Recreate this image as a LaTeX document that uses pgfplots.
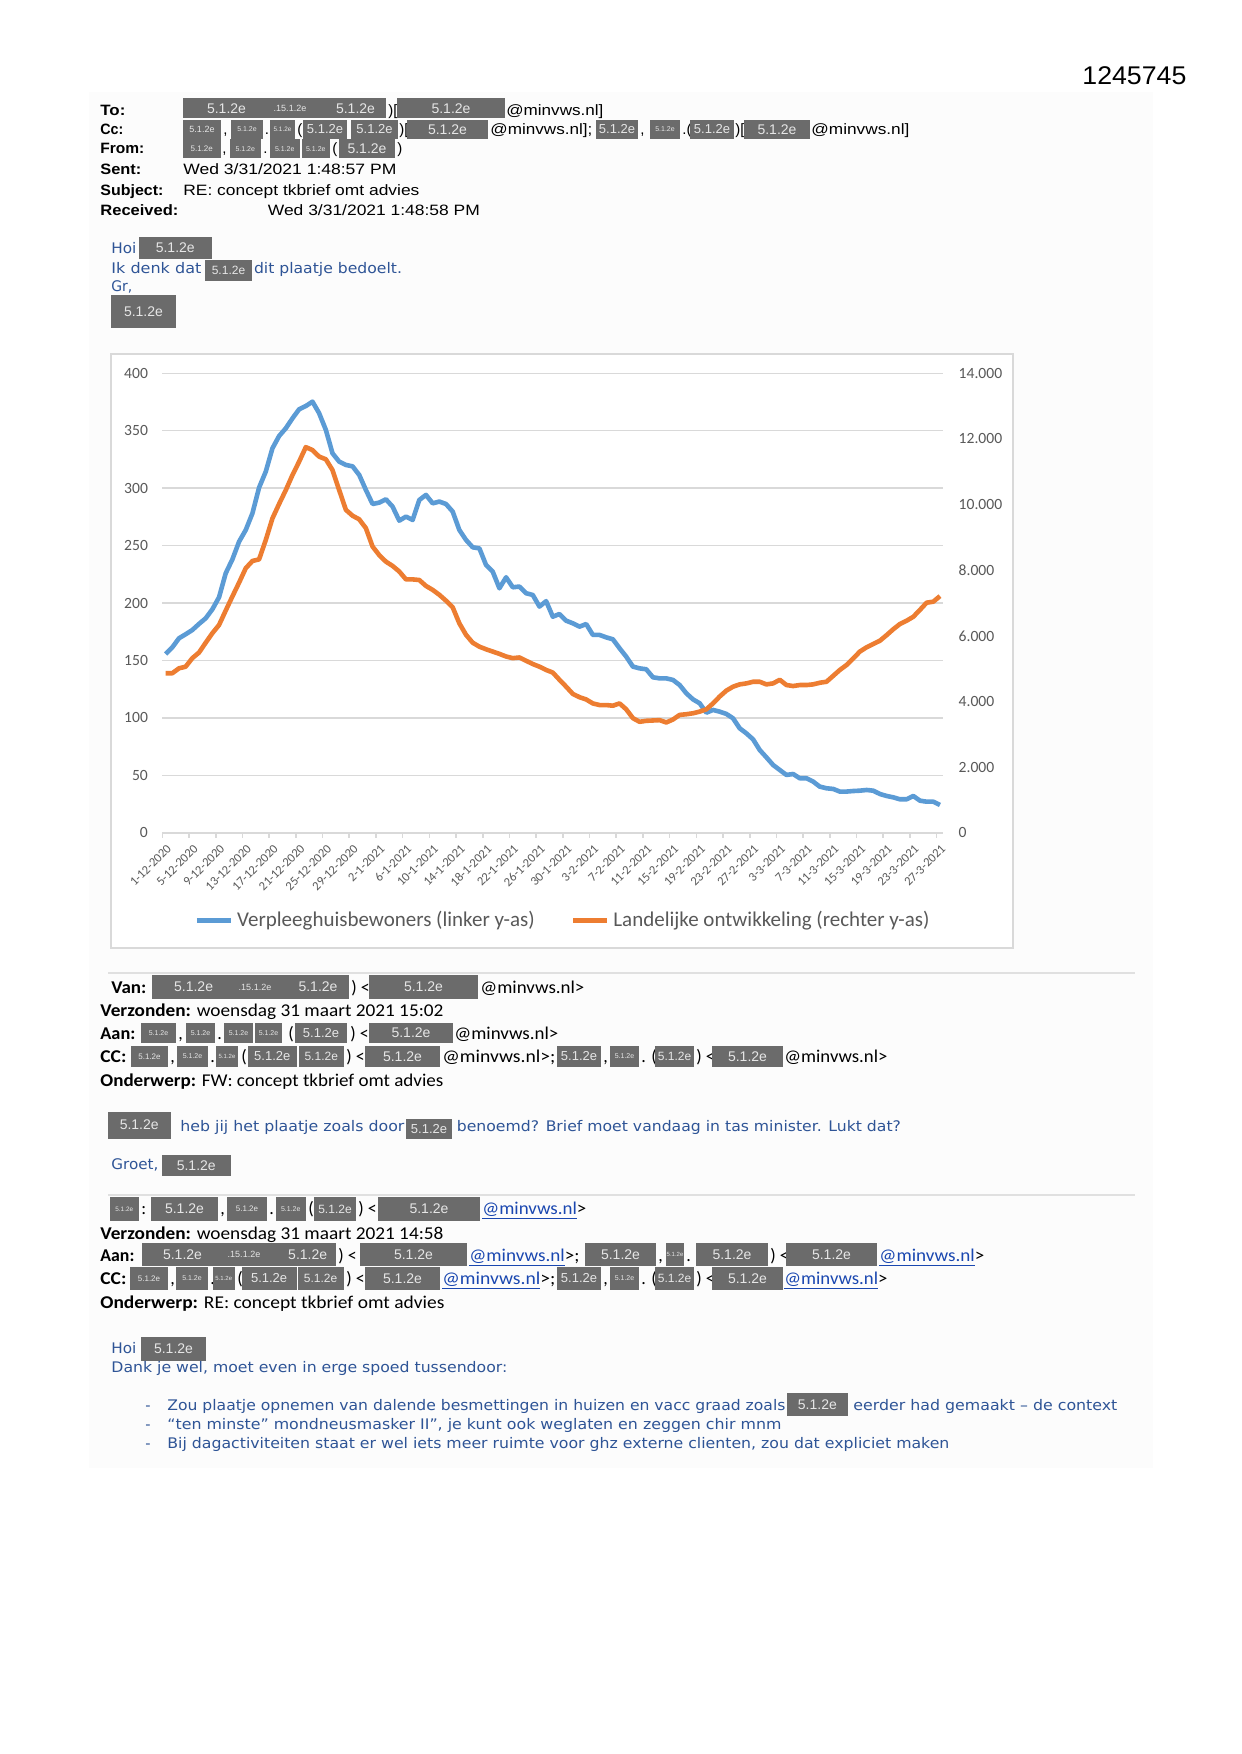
\documentclass[border=0pt]{standalone}
\usepackage{pgfplots}
\pgfplotsset{compat=1.18}
\usepackage{fontspec}
\usepackage{graphicx}
\setmainfont{Liberation Sans}
\newfontfamily\arialf{Liberation Sans}
\newfontfamily\verdf{DejaVu Sans}
\newfontfamily\calf{Carlito}
\newcommand{\HF}{\arialf\fontsize{7.5}{9}\selectfont}
\newcommand{\HB}{\HF\bfseries}
\newcommand{\BF}{\verdf\fontsize{7.3}{9}\selectfont}
\newcommand{\CF}{\calf\fontsize{9}{11}\selectfont}
\newcommand{\CB}{\CF\bfseries}
\definecolor{serblue}{HTML}{5B9BD5}
\definecolor{serorange}{HTML}{ED7D31}
\definecolor{grgray}{HTML}{D9D9D9}
\definecolor{labgray}{HTML}{595959}
\definecolor{bodyblue}{HTML}{2E5496}
\definecolor{linkblue}{HTML}{1A47B0}
\definecolor{redact}{HTML}{6B6B6B}
\definecolor{redtext}{HTML}{E6E6E6}
\definecolor{sepgray}{HTML}{E0E0E0}
\newlength\px \setlength{\px}{0.5pt}
\newcommand{\Tx}[5][black]{\node[anchor=base west,inner sep=0pt,text=#1] at (#2,#3) {\resizebox{#4\px}{\height}{#5}};}
\newcommand{\TT}[4][black]{\node[anchor=base west,inner sep=0pt,text=#1] at (#2,#3) {#4};}
\newcommand{\Bx}[4]{\fill[redact] (#1,#2) rectangle (#3,#4);}
\newcommand{\Rl}[4]{\node[text=redtext,inner sep=0pt,font=\arialf\fontsize{#3}{#3}\selectfont] at (#1,#2) {#4};}
\newcommand{\Rx}[5]{\fill[redact] (#1,#2) rectangle (#3,#4); \node[text=redtext,inner sep=0pt,font=\arialf\fontsize{#5}{#5}\selectfont] at ({(#1+#3)/2},{(#2+#4)/2}) {5.1.2e};}
\begin{document}
\begin{tikzpicture}
\begin{scope}[x=0.5pt,y=-0.5pt]
\fill[white] (0,0) rectangle (1241,1754);
\fill[black!1] (89,92) rectangle (1153,1468);
% page number
\Tx{1082}{84.3}{104}{\arialf\fontsize{12.8}{14}\selectfont 1245745}
% To
\Tx{100}{115.7}{25}{\HB To:}
\Bx{183}{98.5}{386}{118.5}
\Rl{226.5}{108.5}{7}{5.1.2e}\Rl{290}{108.5}{4.5}{.15.1.2e}\Rl{355.5}{108.5}{7}{5.1.2e}
\TT{388}{115.7}{\HF )[}
\Rx{397}{98.5}{505}{118.5}{7}
\Tx{506}{115.7}{97}{\HF @minvws.nl]}
% Cc
\Tx{100}{135}{23}{\HB Cc:}
\Rx{183}{120}{221}{139}{4.5}
\TT{223}{135}{\HF ,}
\Rx{231}{120}{263}{139}{3.5}
\TT{264.5}{135}{\HF .}
\Rx{270}{120}{295}{139}{3.2}
\TT{297}{135}{\HF (}
\Rx{303}{120}{347}{139}{6.5}
\Rx{351}{120}{398}{139}{6.5}
\TT{399}{135}{\HF )[}
\Rx{407}{120}{488}{139}{7}
\Tx{490}{135}{102}{\HF @minvws.nl];}
\Rx{596}{120}{638}{139}{6.5}
\TT{640}{135}{\HF ,}
\Rx{650}{120}{680}{139}{3.5}
\TT{682}{135}{\HF .(}
\Rx{690}{120}{734}{139}{6.5}
\TT{735}{135}{\HF )[}
\Rx{744}{120}{810}{139}{7}
\Tx{811}{135}{98}{\HF @minvws.nl]}
% From
\Tx{100}{154}{44}{\HB From:}
\Rx{183}{139.5}{220.5}{158.5}{4}
\TT{222}{154}{\HF ,}
\Rx{229.6}{139.5}{261}{158.5}{3.5}
\TT{263}{154}{\HF .}
\Rx{270}{139.5}{299.5}{158.5}{3.5}
\Rx{301.6}{139.5}{330}{158.5}{3.5}
\TT{332}{154}{\HF (}
\Rx{339}{139.5}{395}{158.5}{7}
\TT{397}{154}{\HF )}
% Sent etc.
\Tx{100}{175}{41}{\HB Sent:}
\Tx{183}{175}{213}{\HF Wed 3/31/2021 1:48:57 PM}
\Tx{100}{195.5}{63}{\HB Subject:}
\Tx{183}{195.5}{236}{\HF RE: concept tkbrief omt advies}
\Tx{100}{215.5}{78}{\HB Received:}
\Tx{267.5}{215.5}{212}{\HF Wed 3/31/2021 1:48:58 PM}
% body 1
\Tx[bodyblue]{111}{254}{25}{\BF Hoi}
\Rx{138.5}{237}{212}{259}{7}
\Tx[bodyblue]{111}{274}{90}{\BF Ik denk dat}
\Rx{205}{260}{252}{281.5}{6}
\Tx[bodyblue]{253.6}{274}{148}{\BF dit plaatje bedoelt.}
\Tx[bodyblue]{111}{291.5}{21}{\BF Gr,}
\Rx{111}{295.5}{176}{328}{7}
% chart frame
\draw[grgray,line width=1pt,fill=white] (110.7,354) rectangle (1012.7,948.3);
% separator 1
\draw[sepgray,line width=1pt] (108,973.3) -- (1135,973.3);
% Van block
\Tx{111}{993}{35}{\CB Van:}
\Bx{152}{975}{349}{999}
\Rl{193.6}{987}{7}{5.1.2e}\Rl{255}{987}{4.5}{.15.1.2e}\Rl{318}{987}{7}{5.1.2e}
\TT{351}{993}{\CF ) <}
\Rx{369}{975}{478}{999}{7}
\Tx{480}{993}{104}{\CF @minvws.nl>}
\Tx{100}{1016}{343}{\CF{\bfseries Verzonden:} woensdag 31 maart 2021 15:02}
% Aan
\Tx{100}{1039}{35}{\CB Aan:}
\Rx{141}{1023}{176}{1043}{3.5}
\TT{178}{1039}{\CF ,}
\Rx{186}{1023}{215}{1043}{3.5}
\TT{217}{1039}{\CF .}
\Rx{224}{1023}{253}{1043}{3.5}
\Rx{255}{1023}{282}{1043}{3.5}
\TT{288}{1039}{\CF (}
\Rx{295}{1023}{347}{1043}{6.5}
\TT{350}{1039}{\CF ) <}
\Rx{369}{1023}{453}{1043}{7}
\Tx{454}{1039}{104}{\CF @minvws.nl>}
% CC
\Tx{100}{1062}{26}{\CB CC:}
\Rx{131}{1046}{168}{1067}{4}
\TT{170}{1062}{\CF ,}
\Rx{177}{1046}{208}{1067}{3.5}
\TT{210}{1062}{\CF .}
\Rx{216}{1046}{238}{1067}{3}
\TT{241}{1062}{\CF (}
\Rx{248}{1046}{296.5}{1067}{6.5}
\Rx{299}{1046}{343.5}{1067}{6}
\TT{346}{1062}{\CF ) <}
\Rx{365}{1046}{440}{1067}{7}
\Tx{442}{1062}{113}{\CF @minvws.nl>;}
\Rx{557}{1046}{601}{1067}{6.5}
\TT{603}{1062}{\CF ,}
\Rx{610}{1046}{639}{1067}{3.5}
\TT{641}{1062}{\CF . (}
\Rx{655}{1046}{694}{1067}{6}
\TT{696}{1062}{\CF ) <}
\Rx{712}{1046}{783}{1067}{7}
\Tx{784}{1062}{103}{\CF @minvws.nl>}
\Tx{100}{1086}{343}{\CF{\bfseries Onderwerp:} FW: concept tkbrief omt advies}
% body 2
\Rx{107.5}{1111.5}{171}{1138.5}{7}
\Tx[bodyblue]{180}{1131}{224}{\BF heb jij het plaatje zoals door}
\Rx{406}{1119}{452}{1139}{6.5}
\Tx[bodyblue]{456.5}{1131}{444}{\BF benoemd? Brief moet vandaag in tas minister. Lukt dat?}
\Tx[bodyblue]{111}{1169}{47}{\BF Groet,}
\Rx{162}{1155}{230.5}{1176}{7}
% separator 2
\draw[sepgray,line width=1pt] (108,1195) -- (1135,1195);
% second header
\Rx{109.7}{1197}{138.8}{1221}{3.2}
\TT{141}{1214}{\CF :}
\Rx{151}{1197}{218}{1221}{7}
\TT{220}{1214}{\CF ,}
\Rx{227}{1197}{267}{1221}{4}
\TT{269}{1214}{\CF .}
\Rx{276}{1197}{305.5}{1221}{3.5}
\TT{308}{1214}{\CF (}
\Rx{314}{1197}{356}{1221}{6}
\TT{358}{1214}{\CF ) <}
\Rx{378}{1197}{480}{1221}{7}
\Tx{482}{1214}{104}{\CF\textcolor{linkblue}{\underline{@minvws.nl}}>}
\Tx{100}{1239}{343}{\CF{\bfseries Verzonden:} woensdag 31 maart 2021 14:58}
\Tx{100}{1261}{34}{\CB Aan:}
\Bx{142}{1243}{336}{1266}
\Rl{182.5}{1254.5}{7}{5.1.2e}\Rl{244}{1254.5}{4.5}{.15.1.2e}\Rl{307.7}{1254.5}{7}{5.1.2e}
\TT{338}{1261}{\CF ) <}
\Rx{360}{1243}{467}{1266}{7}
\Tx{469}{1261}{110}{\CF\textcolor{linkblue}{\underline{@minvws.nl}}>;}
\Rx{585}{1243}{656}{1266}{7}
\TT{658}{1261}{\CF ,}
\Rx{666}{1243}{684}{1266}{3}
\TT{686}{1261}{\CF . (}
\Rx{696}{1243}{768}{1266}{7}
\TT{770}{1261}{\CF ) <}
\Rx{786}{1243}{877}{1266}{7}
\Tx{879}{1261}{105}{\CF\textcolor{linkblue}{\underline{@minvws.nl}}>}
\Tx{100}{1284}{26}{\CB CC:}
\Rx{130}{1267}{168}{1290}{4}
\TT{170}{1284}{\CF ,}
\Rx{176}{1267}{208}{1290}{3.5}
\TT{210}{1284}{\CF .}
\Rx{212.6}{1267}{235}{1290}{3}
\TT{237}{1284}{\CF (}
\Rx{241.7}{1267}{296.5}{1290}{6.5}
\Rx{297.7}{1267}{343.5}{1290}{6}
\TT{346}{1284}{\CF ) <}
\Rx{365}{1267}{440}{1290}{7}
\Tx{442}{1284}{113}{\CF\textcolor{linkblue}{\underline{@minvws.nl}}>;}
\Rx{557}{1267}{601}{1290}{6.5}
\TT{603}{1284}{\CF ,}
\Rx{610}{1267}{639}{1290}{3.5}
\TT{641}{1284}{\CF . (}
\Rx{655}{1267}{694}{1290}{6}
\TT{696}{1284}{\CF ) <}
\Rx{712}{1267}{783}{1290}{7}
\Tx{784}{1284}{103}{\CF\textcolor{linkblue}{\underline{@minvws.nl}}>}
\Tx{100}{1308.5}{344}{\CF{\bfseries Onderwerp:} RE: concept tkbrief omt advies}
% body 3
\Tx[bodyblue]{111}{1353}{25}{\BF Hoi}
\Rx{141}{1337}{206}{1361}{7}
\Tx[bodyblue]{111}{1372}{396}{\BF Dank je wel, moet even in erge spoed tussendoor:}
\TT[bodyblue]{145}{1410.5}{\BF -}
\TT[bodyblue]{145}{1429}{\BF -}
\TT[bodyblue]{145}{1448.5}{\BF -}
\Tx[bodyblue]{167}{1410.5}{618}{\BF Zou plaatje opnemen van dalende besmettingen in huizen en vacc graad zoals}
\Rx{786.7}{1393}{848}{1415.5}{7}
\Tx[bodyblue]{853}{1410.5}{264}{\BF eerder had gemaakt – de context}
\Tx[bodyblue]{167}{1429}{614}{\BF “ten minste” mondneusmasker II”, je kunt ook weglaten en zeggen chir mnm}
\Tx[bodyblue]{167}{1448.5}{782}{\BF Bij dagactiviteiten staat er wel iets meer ruimte voor ghz externe clienten, zou dat expliciet maken}
\end{scope}

\begin{axis}[
  at={(81.15pt,-416.35pt)}, anchor=south west,
  scale only axis, width=390.5pt, height=229.7pt,
  xmin=-0.5, xmax=116.5, ymin=0, ymax=400,
  axis y line*=left, axis x line*=bottom,
  y axis line style={draw=none},
  x axis line style={draw=grgray, line width=0.8pt, -},
  /pgf/number format/assume math mode=true,
  ytick={0,50,...,400},
  ymajorgrids, grid style={draw=grgray, line width=0.7pt},
  major tick length=0pt, tick align=outside,
  ytick style={draw=none},
  xtick style={draw=grgray, line width=0.8pt},
  xtick={0,4,...,116},
  xticklabels={1-12-2020,5-12-2020,9-12-2020,13-12-2020,17-12-2020,21-12-2020,25-12-2020,29-12-2020,2-1-2021,6-1-2021,10-1-2021,14-1-2021,18-1-2021,22-1-2021,26-1-2021,30-1-2021,3-2-2021,7-2-2021,11-2-2021,15-2-2021,19-2-2021,23-2-2021,27-2-2021,3-3-2021,7-3-2021,11-3-2021,15-3-2021,19-3-2021,23-3-2021,27-3-2021},
  extra x ticks={-0.5,3.5,...,115.5}, extra x tick labels={},
  extra x tick style={major tick length=2.4pt},
  xticklabel style={font=\calf\fontsize{6.3}{7}\selectfont, text=labgray, inner sep=0pt, yshift=-7pt, xshift=1.8pt, rotate=45, anchor=east},
  yticklabel style={font=\calf\fontsize{7.8}{9}\selectfont, text=labgray, inner sep=0pt, anchor=east, xshift=-7pt},
]
\addplot[serblue, line width=2.3pt, line join=round] coordinates {
(0,155.6)(1,161.4)(2,169.3)(3,172.8)(4,176.5)(5,181.8)(6,186.7)(7,194.5)(8,205.0)(9,225.9)(10,238.0)(11,253.4)(12,263.6)(13,278.1)(14,300.5)(15,314.4)(16,334.7)(17,345.4)(18,352.1)(19,360.8)(20,368.7)(21,371.5)(22,375.3)(23,365.2)(24,350.7)(25,330.3)(26,323.1)(27,320.2)(28,319.0)(29,311.5)(30,298.4)(31,286.2)(32,287.4)(33,290.3)(34,283.9)(35,271.7)(36,275.2)(37,272.3)(38,289.7)(39,294.1)(40,286.8)(41,288.3)(42,286.2)(43,279.6)(44,263.6)(45,254.9)(46,248.5)(47,247.6)(48,233.1)(49,227.3)(50,212.8)(51,222.4)(52,213.7)(53,214.3)(54,208.5)(55,207.0)(56,196.9)(57,201.6)(58,188.1)(59,190.4)(60,184.6)(61,182.3)(62,179.4)(63,181.7)(64,172.2)(65,172.2)(66,170.1)(67,168.4)(68,160.6)(69,153.3)(70,144.6)(71,143.1)(72,142.3)(73,135.3)(74,134.4)(75,134.4)(76,133.0)(77,128.6)(78,121.4)(79,116.1)(80,112.7)(81,104.5)(82,106.9)(83,105.4)(84,103.4)(85,99.6)(86,90.9)(87,86.5)(88,81.3)(89,72.0)(90,65.6)(91,59.0)(92,54.6)(93,50.3)(94,51.1)(95,47.4)(96,47.4)(97,44.5)(98,40.1)(99,38.7)(100,38.1)(101,35.8)(102,35.8)(103,36.3)(104,36.6)(105,37.2)(106,36.6)(107,33.7)(108,32.0)(109,30.8)(110,29.1)(111,29.1)(112,32.0)(113,27.9)(114,27.0)(115,27.0)(116,24.1)
};
\end{axis}

\begin{axis}[
  at={(81.15pt,-416.35pt)}, anchor=south west,
  scale only axis, width=390.5pt, height=229.7pt,
  xmin=-0.5, xmax=116.5, ymin=0, ymax=14000,
  axis y line*=right, axis x line=none,
  y axis line style={draw=none}, ytick style={draw=none},
  major tick length=0pt,
  /pgf/number format/assume math mode=true,
  ytick={0,2000,...,14000}, scaled y ticks=false,
  yticklabel style={font=\calf\fontsize{7.8}{9}\selectfont, text=labgray, /pgf/number format/1000 sep={.}, inner sep=0pt, anchor=west, xshift=7.5pt},
  legend style={at={(0.5144,-0.1916)}, anchor=center, draw=none, fill=none, legend columns=2, font=\calf\fontsize{10.5}{12}\selectfont, text=labgray, /tikz/every even column/.append style={column sep=16pt}, inner sep=0pt},
  legend cell align=left,
  legend image code/.code={\draw[#1] (0pt,0pt) -- (17pt,0pt);},
]
\addlegendimage{serblue, line width=2.3pt}
\addlegendentry{Verpleeghuisbewoners (linker y-as)}
\addplot[serorange, line width=2.3pt, line join=round] coordinates {
(0,4860)(1,4860)(2,5010)(3,5060)(4,5320)(5,5490)(6,5790)(7,6080)(8,6330)(9,6770)(10,7200)(11,7620)(12,8060)(13,8280)(14,8330)(15,8920)(16,9580)(17,10020)(18,10440)(19,10900)(20,11310)(21,11750)(22,11660)(23,11460)(24,11380)(25,11050)(26,10440)(27,9840)(28,9660)(29,9550)(30,9280)(31,8720)(32,8460)(33,8260)(34,8130)(35,7960)(36,7720)(37,7720)(38,7700)(39,7520)(40,7400)(41,7250)(42,7070)(43,6870)(44,6380)(45,6030)(46,5790)(47,5670)(48,5590)(49,5520)(50,5450)(51,5370)(52,5320)(53,5340)(54,5240)(55,5140)(56,5060)(57,4960)(58,4880)(59,4660)(60,4450)(61,4230)(62,4130)(63,4060)(64,3940)(65,3890)(66,3890)(67,3870)(68,3940)(69,3760)(70,3490)(71,3380)(72,3410)(73,3420)(74,3430)(75,3360)(76,3450)(77,3590)(78,3610)(79,3640)(80,3690)(81,3760)(82,3940)(83,4150)(84,4330)(85,4450)(86,4520)(87,4550)(88,4600)(89,4600)(90,4520)(91,4550)(92,4660)(93,4500)(94,4470)(95,4500)(96,4500)(97,4520)(98,4570)(99,4600)(100,4780)(101,4960)(102,5110)(103,5310)(104,5520)(105,5650)(106,5750)(107,5850)(108,6020)(109,6200)(110,6360)(111,6460)(112,6580)(113,6790)(114,7010)(115,7040)(116,7210)
};
\addlegendentry{Landelijke ontwikkeling (rechter y-as)}
\end{axis}
\end{tikzpicture}
\end{document}
